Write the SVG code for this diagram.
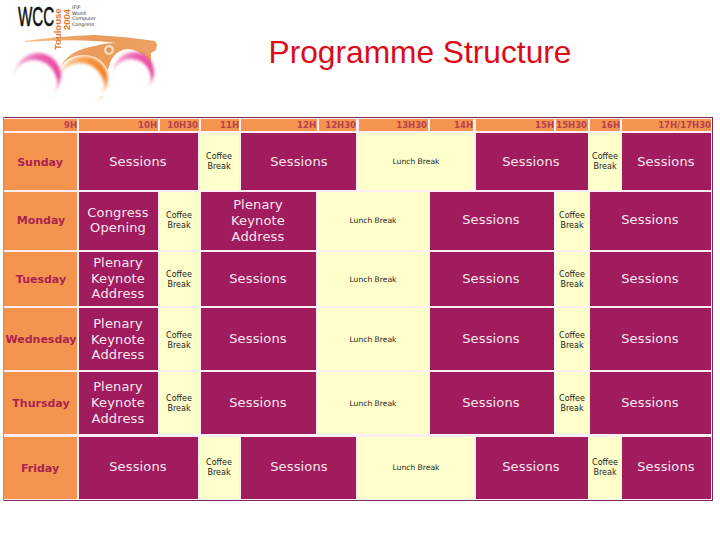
<svg xmlns="http://www.w3.org/2000/svg" width="720" height="540" viewBox="0 0 720 540">
<defs>
<style>
.o{fill:#f5944f}.s{fill:#a01c5c}.y{fill:#ffffcc}
text{font-family:"DejaVu Sans","Liberation Sans",sans-serif}
.h{font-size:8.5px;font-weight:bold;fill:#b8404f;text-anchor:end}
.d{font-size:11px;font-weight:bold;fill:#a8244f;text-anchor:middle}
.t{font-size:13px;fill:#fbe6f2;text-anchor:middle;letter-spacing:.15px}
.c{font-size:8px;fill:#222;text-anchor:middle}
.l{font-size:7.6px;fill:#222;text-anchor:middle}
.a{font-family:"Liberation Sans",sans-serif}
</style>
<linearGradient id="pk" x1="0" y1="0" x2="1" y2=".4"><stop offset="0" stop-color="#f9c0dc"/><stop offset=".5" stop-color="#ee5fb0"/><stop offset="1" stop-color="#e8459f"/></linearGradient>
<linearGradient id="or" x1="0" y1="0" x2="1" y2=".4"><stop offset="0" stop-color="#fbd0a0"/><stop offset=".6" stop-color="#f6903a"/><stop offset="1" stop-color="#f47a20"/></linearGradient>
<linearGradient id="body" x1="0" y1="0" x2="1" y2="0"><stop offset="0" stop-color="#f6c08e"/><stop offset=".5" stop-color="#ea9a58"/><stop offset="1" stop-color="#eba262"/></linearGradient>
<linearGradient id="fade" x1="0" y1="0" x2="0" y2="1"><stop offset="0" stop-color="#fff" stop-opacity="0"/><stop offset="1" stop-color="#fff"/></linearGradient>
<filter id="soft" x="-20%" y="-20%" width="140%" height="140%"><feGaussianBlur stdDeviation="1.4"/></filter>
</defs>
<rect width="720" height="540" fill="#fff"/>
<g id="logo">
<path d="M25 41 Q60 36 95 35 Q130 37 155 41 L157 44 L156 50 L151 53 L151 66 Q142 50 128 49 Q112 50 108 70 Q100 55 84 55 Q68 55 60 68 Q68 50 95 46 Q104 43 116 43 Q80 38 25 42Z" fill="url(#body)"/>
<circle cx="109" cy="50" r="5" fill="#f7d8b8"/><circle cx="109" cy="50" r="2.500" fill="#e0955a"/>
<circle cx="84" cy="80" r="24" fill="url(#or)" filter="url(#soft)"/><circle cx="80" cy="87" r="24" fill="#fff" filter="url(#soft)"/>
<circle cx="38" cy="76" r="23" fill="url(#pk)" filter="url(#soft)"/><circle cx="34" cy="83" r="23" fill="#fff" filter="url(#soft)"/>
<circle cx="134" cy="72" r="20" fill="url(#pk)" filter="url(#soft)"/><circle cx="131" cy="79" r="20" fill="#fff" filter="url(#soft)"/>
<rect x="10" y="76" width="150" height="20" fill="url(#fade)"/>
<text class="a" transform="translate(18 26) scale(.66 1.24)" font-size="23" fill="#111" stroke="#111" stroke-width=".5">WCC</text>
<text class="a" transform="translate(61 50) rotate(-90)" font-size="9.500" font-weight="bold" fill="#e07a30">Toulouse</text>
<text class="a" transform="translate(70 30) rotate(-90)" font-size="9.500" font-weight="bold" fill="#e07a30">2004</text>
<g font-size="4.800" fill="#333"><text x="72" y="9">IFIP</text><text x="72" y="14.500">World</text><text x="72" y="20">Computer</text><text x="72" y="26">Congress</text></g>
</g>
<text id="title" class="a" x="420" y="63" font-size="31.700" fill="#dd0a18" text-anchor="middle">Programme Structure</text>
<g id="table">
<rect x="3" y="117" width="710" height="384" fill="#fdeef6"/>
<path d="M3 117.500H713M3 500.500H713M712.500 117V501" fill="none" stroke="#7a2a55"/>
<path d="M3.500 117V501" fill="none" stroke="#b88a9c"/>
</g>
<g id="header">
<rect class="o" x="4" y="119" width="73" height="12"/><rect class="o" x="79" y="119" width="79" height="12"/><rect class="o" x="160" y="119" width="39" height="12"/><rect class="o" x="201" y="119" width="38" height="12"/><rect class="o" x="241" y="119" width="76" height="12"/><rect class="o" x="319" y="119" width="37" height="12"/><rect class="o" x="359" y="119" width="69" height="12"/><rect class="o" x="430" y="119" width="43" height="12"/><rect class="o" x="476" y="119" width="78" height="12"/><rect class="o" x="556" y="119" width="32" height="12"/><rect class="o" x="590" y="119" width="30" height="12"/><rect class="o" x="622" y="119" width="89" height="12"/>
<text class="h" x="77" y="128">9H</text><text class="h" x="157" y="128">10H</text><text class="h" x="198" y="128">10H30</text><text class="h" x="239" y="128">11H</text><text class="h" x="316" y="128">12H</text><text class="h" x="356" y="128">12H30</text><text class="h" x="427" y="128">13H30</text><text class="h" x="473" y="128">14H</text><text class="h" x="554" y="128">15H</text><text class="h" x="587" y="128">15H30</text><text class="h" x="620" y="128">16H</text><text class="h" x="711" y="128">17H/17H30</text>
</g>
<g id="sunday">
<rect class="o" x="4" y="133" width="73" height="57"/><rect class="s" x="79" y="133" width="119" height="57"/><rect class="y" x="200" y="133" width="39" height="57"/><rect class="s" x="241" y="133" width="115" height="57"/><rect class="y" x="358" y="133" width="116" height="57"/><rect class="s" x="476" y="133" width="112" height="57"/><rect class="y" x="588" y="133" width="33" height="57"/><rect class="s" x="622" y="133" width="89" height="57"/>
<text class="d" x="40" y="166">Sunday</text><text class="t" x="138" y="166">Sessions</text><text class="c" x="219" y="159">Coffee</text><text class="c" x="219" y="169">Break</text><text class="t" x="299" y="166">Sessions</text><text class="l" x="416" y="164">Lunch Break</text><text class="t" x="531" y="166">Sessions</text><text class="c" x="605" y="159">Coffee</text><text class="c" x="605" y="169">Break</text><text class="t" x="666" y="166">Sessions</text>
</g>
<g id="monday">
<rect class="o" x="4" y="192" width="73" height="58"/><rect class="s" x="79" y="192" width="79" height="58"/><rect class="y" x="160" y="192" width="39" height="58"/><rect class="s" x="201" y="192" width="115" height="58"/><rect class="y" x="317" y="192" width="113" height="58"/><rect class="s" x="430" y="192" width="124" height="58"/><rect class="y" x="555" y="192" width="34" height="58"/><rect class="s" x="590" y="192" width="121" height="58"/>
<text class="d" x="41" y="224">Monday</text><text class="t" x="118" y="217">Congress</text><text class="t" x="118" y="232">Opening</text><text class="c" x="179" y="218">Coffee</text><text class="c" x="179" y="228">Break</text><text class="t" x="258" y="209">Plenary</text><text class="t" x="258" y="225">Keynote</text><text class="t" x="258" y="241">Address</text><text class="l" x="373" y="223">Lunch Break</text><text class="t" x="491" y="224">Sessions</text><text class="c" x="572" y="218">Coffee</text><text class="c" x="572" y="228">Break</text><text class="t" x="650" y="224">Sessions</text>
</g>
<g id="tuesday">
<rect class="o" x="4" y="252" width="73" height="54"/><rect class="s" x="79" y="252" width="79" height="54"/><rect class="y" x="160" y="252" width="39" height="54"/><rect class="s" x="201" y="252" width="115" height="54"/><rect class="y" x="317" y="252" width="113" height="54"/><rect class="s" x="430" y="252" width="124" height="54"/><rect class="y" x="555" y="252" width="34" height="54"/><rect class="s" x="590" y="252" width="121" height="54"/>
<text class="d" x="41" y="283">Tuesday</text><text class="t" x="118" y="267">Plenary</text><text class="t" x="118" y="283">Keynote</text><text class="t" x="118" y="298">Address</text><text class="c" x="179" y="277">Coffee</text><text class="c" x="179" y="287">Break</text><text class="t" x="258" y="283">Sessions</text><text class="l" x="373" y="282">Lunch Break</text><text class="t" x="491" y="283">Sessions</text><text class="c" x="572" y="277">Coffee</text><text class="c" x="572" y="287">Break</text><text class="t" x="650" y="283">Sessions</text>
</g>
<g id="wednesday">
<rect class="o" x="4" y="308" width="73" height="62"/><rect class="s" x="79" y="308" width="79" height="62"/><rect class="y" x="160" y="308" width="39" height="62"/><rect class="s" x="201" y="308" width="115" height="62"/><rect class="y" x="317" y="308" width="113" height="62"/><rect class="s" x="430" y="308" width="124" height="62"/><rect class="y" x="555" y="308" width="34" height="62"/><rect class="s" x="590" y="308" width="121" height="62"/>
<text class="d" x="41" y="343">Wednesday</text><text class="t" x="118" y="328">Plenary</text><text class="t" x="118" y="344">Keynote</text><text class="t" x="118" y="359">Address</text><text class="c" x="179" y="338">Coffee</text><text class="c" x="179" y="348">Break</text><text class="t" x="258" y="343">Sessions</text><text class="l" x="373" y="342">Lunch Break</text><text class="t" x="491" y="343">Sessions</text><text class="c" x="572" y="338">Coffee</text><text class="c" x="572" y="348">Break</text><text class="t" x="650" y="343">Sessions</text>
</g>
<g id="thursday">
<rect class="o" x="4" y="372" width="73" height="62"/><rect class="s" x="79" y="372" width="79" height="62"/><rect class="y" x="160" y="372" width="39" height="62"/><rect class="s" x="201" y="372" width="115" height="62"/><rect class="y" x="317" y="372" width="113" height="62"/><rect class="s" x="430" y="372" width="124" height="62"/><rect class="y" x="555" y="372" width="34" height="62"/><rect class="s" x="590" y="372" width="121" height="62"/>
<text class="d" x="41" y="407">Thursday</text><text class="t" x="118" y="391">Plenary</text><text class="t" x="118" y="407">Keynote</text><text class="t" x="118" y="423">Address</text><text class="c" x="179" y="401">Coffee</text><text class="c" x="179" y="411">Break</text><text class="t" x="258" y="407">Sessions</text><text class="l" x="373" y="406">Lunch Break</text><text class="t" x="491" y="407">Sessions</text><text class="c" x="572" y="401">Coffee</text><text class="c" x="572" y="411">Break</text><text class="t" x="650" y="407">Sessions</text>
</g>
<g id="friday">
<rect class="o" x="4" y="437" width="73" height="62"/><rect class="s" x="79" y="437" width="119" height="62"/><rect class="y" x="200" y="437" width="39" height="62"/><rect class="s" x="241" y="437" width="115" height="62"/><rect class="y" x="358" y="437" width="116" height="62"/><rect class="s" x="476" y="437" width="112" height="62"/><rect class="y" x="588" y="437" width="33" height="62"/><rect class="s" x="622" y="437" width="89" height="62"/>
<text class="d" x="40" y="472">Friday</text><text class="t" x="138" y="471">Sessions</text><text class="c" x="219" y="465">Coffee</text><text class="c" x="219" y="475">Break</text><text class="t" x="299" y="471">Sessions</text><text class="l" x="416" y="470">Lunch Break</text><text class="t" x="531" y="471">Sessions</text><text class="c" x="605" y="465">Coffee</text><text class="c" x="605" y="475">Break</text><text class="t" x="666" y="471">Sessions</text>
</g>
</svg>
